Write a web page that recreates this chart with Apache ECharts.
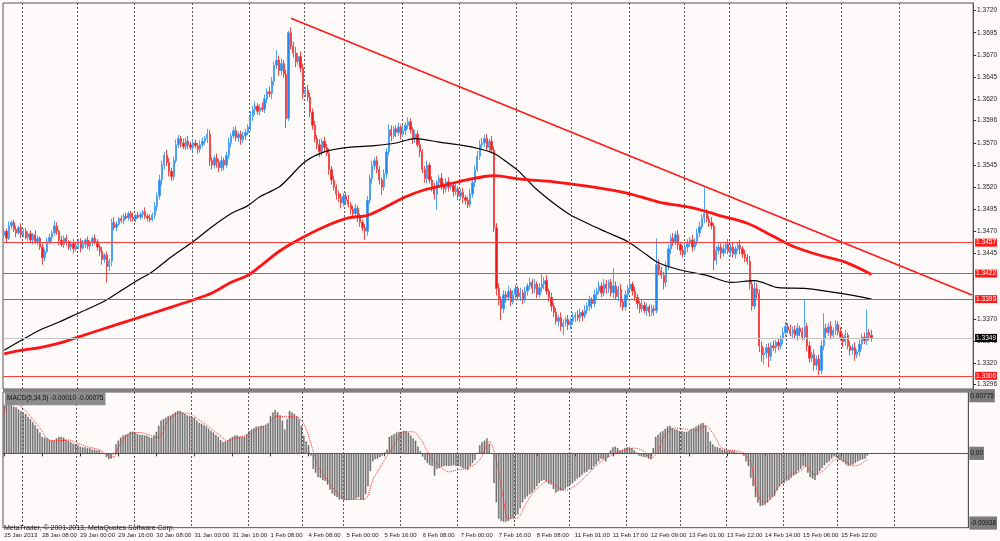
<!doctype html>
<html>
<head>
    <title>EURUSD H1</title>
    <script src="https://cdn.jsdelivr.net/npm/echarts@6.0.0/dist/echarts.min.js"></script>
</head>
<style>
    html, body { margin: 0; padding: 0; background: #fffafa; }
    #chart { width: 1000px; height: 541px; }
</style>
<body>
<div id="chart"></div>
<script>
  // hourly closes in pips (3470 = 1.3470)
  var closes = [
    3470,3462,3476,3480,3472,3468,3474,3466,3470,3463,
    3467,3460,3466,3458,3462,3452,3440,3447,3458,3463,
    3468,3476,3470,3460,3455,3462,3458,3452,3456,3450,
    3454,3459,3451,3455,3460,3453,3457,3462,3458,3452,
    3447,3438,3443,3430,3436,3480,3474,3478,3484,3482,
    3487,3485,3490,3486,3484,3488,3486,3489,3492,3487,
    3485,3483,3488,3498,3510,3528,3545,3556,3548,3538,
    3532,3550,3568,3575,3570,3566,3572,3568,3565,3570,
    3567,3563,3568,3572,3575,3580,3550,3545,3553,3548,
    3542,3550,3545,3556,3570,3578,3584,3576,3580,3574,
    3578,3582,3588,3600,3608,3612,3606,3610,3608,3620,
    3628,3626,3640,3658,3664,3652,3660,3648,3598,3695,
    3680,3672,3662,3668,3655,3626,3630,3622,3605,3590,
    3575,3568,3560,3572,3565,3558,3540,3528,3520,3512,
    3508,3502,3510,3505,3500,3495,3490,3496,3486,3480,
    3474,3470,3505,3530,3544,3550,3540,3528,3520,3535,
    3560,3585,3578,3586,3582,3588,3580,3584,3590,3594,
    3585,3575,3580,3568,3560,3540,3530,3545,3528,3520,
    3512,3525,3530,3522,3518,3526,3520,3522,3515,3518,
    3510,3514,3508,3505,3500,3512,3525,3540,3555,3568,
    3570,3575,3565,3572,3562,3474,3405,3392,3382,3398,
    3395,3402,3390,3398,3405,3396,3400,3393,3402,3408,
    3412,3405,3410,3398,3406,3410,3414,3402,3395,3385,
    3378,3368,3372,3362,3366,3370,3364,3368,3372,3375,
    3372,3378,3374,3380,3385,3392,3388,3398,3402,3408,
    3400,3410,3405,3412,3400,3408,3396,3404,3390,3384,
    3398,3405,3410,3402,3395,3388,3382,3386,3380,3384,
    3378,3382,3380,3432,3425,3420,3412,3430,3450,3462,
    3458,3466,3455,3448,3444,3452,3456,3460,3452,3458,
    3468,3475,3485,3490,3484,3480,3476,3437,3448,3452,
    3445,3450,3455,3447,3452,3444,3450,3454,3450,3444,
    3440,3436,3410,3385,3405,3400,3340,3330,3332,3338,
    3328,3340,3338,3344,3340,3348,3355,3362,3358,3354,
    3358,3352,3360,3356,3350,3362,3340,3326,3330,3318,
    3325,3312,3340,3360,3355,3362,3352,3358,3364,3356,
    3350,3345,3352,3340,3335,3338,3330,3333,3342,3350,
    3346,3355,3352,3349
  ];
  var firstOpen = 3465;

  // wick length above the body / below the body, pips
  var wickUp = [
    4,3,5,2,3,4,2,5,3,4, 3,4,2,5,3,2,4,3,5,4, 3,6,4,2,5,3,4,2,3,5, 4,2,3,5,2,4,3,2,4,3,
    3,5,2,4,3,4,6,3,2,4, 3,4,2,3,5,2,4,3,2,5, 3,4,3,5,4,6,5,4,6,5, 4,5,6,4,3,5,4,6,3,5,
    4,3,5,4,3,6,5,4,3,5, 4,5,3,4,6,3,4,5,3,4, 5,4,3,6,4,5,3,4,6,5, 4,6,5,4,11,5,6,4,5,2,
    6,5,7,4,6,5,4,6,5,4, 5,4,6,3,5,4,6,4,5,3, 4,5,3,4,6,3,4,5,3,4, 3,4,5,4,6,3,5,4,3,5,
    4,6,5,3,4,5,3,6,4,5, 4,3,5,4,6,3,4,5,3,4, 5,3,4,6,3,4,5,3,4,6, 3,4,5,3,4,6,5,4,6,5,
    6,4,5,3,6,4,5,6,4,5, 4,6,3,5,4,3,6,4,5,3, 5,4,6,3,5,12,4,6,3,5, 4,5,3,6,4,3,5,4,6,3,
    5,4,3,6,4,5,3,6,4,5, 4,6,5,3,4,20,5,4,6,3, 5,4,6,3,5,4,3,6,4,5, 3,5,4,30,6,5,4,6,5,4,
    6,4,5,3,6,4,5,3,6,4, 5,6,4,30,5,4,6,3,5,4, 4,5,3,6,4,5,3,4,6,3, 5,4,6,5,8,6,4,5,6,4,
    5,4,6,3,5,4,6,5,4,6, 4,5,6,3,5,30,4,5,3,6, 4,5,6,17,5,4,6,3,5,4, 5,4,6,3,5,4,6,3,5,4,
    5,26,4,6
  ];
  var wickDn = [
    3,5,2,4,3,5,2,4,3,2, 4,3,5,2,4,3,8,4,2,3, 5,3,4,6,3,4,5,3,4,5, 3,4,5,2,4,3,5,4,3,4,
    5,6,4,18,5,6,3,4,2,3, 4,2,3,5,3,4,2,3,4,3, 4,3,2,4,5,4,6,5,4,6, 5,4,3,4,5,3,4,5,3,4,
    3,5,4,3,4,5,6,5,4,6, 5,4,6,3,4,5,3,4,5,6, 4,5,3,4,5,6,4,5,3,4, 5,4,6,5,4,6,5,4,11,3,
    4,5,6,4,5,6,4,5,6,5, 4,5,6,4,5,3,6,5,4,6, 5,6,4,5,3,6,5,4,6,5, 4,10,5,4,6,5,4,5,9,4,
    5,4,6,3,5,4,6,3,5,4, 4,6,5,3,6,4,5,6,4,5, 6,18,4,5,6,4,5,3,6,4, 5,4,6,5,4,3,4,5,3,4,
    4,5,3,6,4,5,8,6,13,5, 6,4,5,3,6,4,5,6,4,5, 4,6,5,4,3,5,6,4,5,6, 5,4,6,5,10,4,6,5,4,5,
    4,5,6,3,4,5,6,4,5,3, 5,4,6,5,4,6,3,5,6,4, 4,6,3,5,4,6,5,4,3,6, 5,4,6,3,5,4,8,5,4,6,
    5,4,6,5,4,3,6,4,5,3, 4,5,3,6,4,5,4,11,5,4, 6,4,5,3,6,4,5,3,6,4, 5,4,6,5,4,6,7,8,11,6,
    12,5,4,6,5,4,6,5,4,3, 5,4,6,5,4,3,6,5,4,6, 5,5,4,5,6,4,5,3,6,4, 4,6,5,4,6,5,7,4,5,6,
    4,5,6,4
  ];

  // moving averages, sampled [bar, pips]
  var maFast = [[0,3335],[7,3346],[15,3358],[23,3367],[31,3377],[40,3388],[44,3394],[55,3413],[62,3424],[70,3441],
    [79,3458],[87,3475],[95,3490],[102,3499],[107,3509],[115,3520],[119,3530],[126,3549],[134,3560],[144,3565],
    [155,3567],[164,3570],[172,3575],[182,3571],[190,3568],[198,3564],[205,3558],[211,3547],[215,3539],[223,3517],
    [236,3490],[244,3479],[252,3469],[261,3458],[269,3443],[274,3434],[283,3426],[294,3420],[304,3412],[314,3414],
    [324,3406],[336,3405],[349,3400],[363,3393]];
  var maSlow = [[0,3331],[7,3335],[15,3338],[23,3343],[31,3350],[40,3358],[47,3364],[55,3371],[62,3377],[70,3384],
    [79,3392],[87,3400],[95,3412],[102,3420],[107,3430],[115,3447],[123,3460],[134,3475],[144,3485],[152,3488],
    [160,3498],[168,3509],[176,3517],[184,3522],[193,3528],[201,3532],[205,3533],[216,3529],[230,3526],[244,3521],
    [261,3513],[274,3503],[289,3496],[299,3488],[311,3479],[322,3464],[330,3453],[341,3443],[352,3435],[363,3421]];

  var trendLine = [[120, 1.37114], [405, 1.33977]];
  var levels = [1.3457, 1.3422, 1.3393, 1.3306];
  var bid = 1.3349;

  // MACD histogram, units of 0.0001
  var macdHist = [
    65,71,69,66,63,62,59,57,55,53, 49,46,42,38,33,28,22,21,20,18, 17,17,20,22,22,21,18,17,15,13,
    12,11,9,8,8,7,7,5,5,4, 4,1,-1,-5,-8,-7,-1,12,17,21, 24,25,26,29,29,28,26,25,25,24,
    24,22,21,24,29,37,44,46,48,50, 51,53,55,57,57,55,53,51,50,49, 48,44,41,40,38,36,33,30,28,25,
    22,18,15,16,17,20,22,24,24,22, 22,22,26,30,32,34,36,36,37,37, 38,40,50,55,58,55,51,44,32,46,
    57,55,53,50,46,37,24,16,11,-3, -21,-26,-32,-33,-36,-37,-42,-49,-54,-57, -59,-62,-62,-63,-63,-63,-62,-62,-61,-59,
    -62,-63,-55,-44,-24,-11,-8,-7,-5,-3, 1,5,22,24,26,28,29,29,30,30, 28,24,20,17,9,3,-4,-9,-13,-16,
    -17,-30,-21,-20,-18,-17,-17,-17,-17,-16, -17,-17,-18,-20,-21,-22,-17,-13,-9,0, 11,15,17,20,13,0,-40,-66,-88,-91,
    -92,-92,-91,-88,-87,-84,-82,-74,-66,-61, -58,-55,-53,-49,-44,-40,-37,-36,-38,-41, -42,-48,-53,-51,-50,-50,-48,-45,-42,-40,
    -37,-34,-32,-29,-26,-25,-22,-22,-18,-15, -11,-7,-8,-11,-5,4,8,9,7,4, 5,7,8,8,7,4,1,-3,-4,-5,
    -5,-7,-8,7,22,25,28,30,33,36, 37,34,32,32,30,30,29,29,30,33, 34,36,38,40,41,37,29,16,12,9,
    8,7,5,5,4,4,3,3,1,0, -1,-3,-11,-17,-33,-44,-59,-66,-71,-70, -69,-66,-62,-59,-57,-50,-44,-41,-40,-37,
    -36,-33,-30,-28,-24,-21,-17,-18,-26,-32, -34,-36,-29,-24,-20,-16,-13,-11,-7,-4, -5,-8,-9,-12,-15,-17,-16,-15,-13,-11,
    -9,-8,-7,-3
  ];
  // signal line, sampled [bar, units of 0.0001]
  var macdSignal = [[0,54],[2,71],[7,63],[11,50],[15,34],[19,18],[23,17],[27,18],[32,12],[36,8],[40,5],[44,-3],[46,-5],
    [48,8],[52,25],[57,28],[61,25],[65,21],[69,44],[73,54],[77,54],[82,45],[90,26],[94,17],[98,21],[102,24],[107,33],
    [111,40],[115,50],[119,49],[123,49],[126,40],[129,13],[132,-17],[136,-36],[140,-53],[144,-62],[148,-62],[152,-61],
    [155,-36],[160,-9],[164,11],[168,29],[172,29],[175,20],[179,-3],[183,-17],[187,-25],[191,-22],[195,-20],[200,-9],
    [204,16],[207,-9],[210,-62],[212,-88],[216,-87],[219,-70],[223,-51],[229,-37],[233,-46],[236,-50],[240,-44],
    [244,-33],[248,-20],[252,-9],[257,0],[261,4],[265,7],[269,3],[272,-7],[275,3],[277,20],[282,34],[286,33],[290,30],
    [294,36],[295,37],[299,22],[302,7],[308,3],[311,0],[314,-13],[316,-44],[319,-66],[322,-63],[326,-44],[330,-30],
    [335,-24],[337,-17],[341,-29],[345,-22],[350,-8],[354,-11],[357,-17],[360,-15],[363,-8]];

  var timeLabels = ['25 Jan 2013','28 Jan 08:00','29 Jan 00:00','29 Jan 16:00','30 Jan 08:00','31 Jan 00:00',
    '31 Jan 16:00','1 Feb 08:00','4 Feb 08:00','5 Feb 00:00','5 Feb 16:00','6 Feb 08:00','7 Feb 00:00',
    '7 Feb 16:00','8 Feb 08:00','11 Feb 01:00','11 Feb 17:00','12 Feb 09:00','13 Feb 01:00','13 Feb 22:00',
    '14 Feb 14:00','15 Feb 06:00','15 Feb 22:00'];
  var dayLines = [8,31,55,79,103,126,143,167,191,215,238,262,285,304,328,351,375];
  var priceTicks = [1.3720,1.3695,1.3670,1.3645,1.3620,1.3596,1.3570,1.3545,1.3520,1.3495,1.3470,1.3445,
    1.3370,1.3345,1.3320,1.3296];
  var macdTicks = [0.00775, 0, -0.00938];

  var slots = 406;
  var font = 'Liberation Sans';

  var cats = [];
  for (var k = 0; k < slots; k++) cats.push(String(k));

  function px(p) { return 1 + p / 1e4; }
  var candles = closes.map(function (c, i) {
    var o = i ? closes[i - 1] : firstOpen;
    var hi = Math.max(o, c) + wickUp[i];
    var lo = Math.min(o, c) - wickDn[i];
    return [px(o), px(c), px(lo), px(hi)];
  });
  function pairs(arr) {
    return arr.map(function (p) { return [p[0], px(p[1])]; });
  }
  function isDay(idx) { return dayLines.indexOf(idx) >= 0; }
  function isLabel(idx) { return idx % 16 === 0 && idx / 16 < timeLabels.length; }

  var tagLines = levels.map(function (v) {
    return {
      yAxis: v,
      lineStyle: { color: '#ff3b3b', width: 1, type: 'solid' },
      label: { backgroundColor: '#ff1a1a', color: '#fff' }
    };
  });
  tagLines.push({
    yAxis: bid,
    lineStyle: { color: '#c4c4c4', width: 1, type: 'solid' },
    label: { backgroundColor: '#000', color: '#fff' }
  });

  var myChart = echarts.init(document.getElementById('chart'));
  var option = {
    backgroundColor: '#fffafa',
    animation: false,
    textStyle: { fontFamily: font },
    grid: [
      { left: 3, right: 23, top: 3, height: 386, show: true, borderColor: '#555', borderWidth: 1, backgroundColor: 'transparent' },
      { left: 3, right: 23, top: 392, height: 138, show: true, borderColor: '#555', borderWidth: 1, backgroundColor: 'transparent' }
    ],
    xAxis: [
      {
        type: 'category', gridIndex: 0, data: cats, boundaryGap: true,
        axisLine: { show: false }, axisTick: { show: false }, axisLabel: { show: false },
        splitLine: { show: true, interval: function (idx) { return isDay(idx); },
          lineStyle: { color: '#555', type: [2, 2], width: 1 } }
      },
      {
        type: 'category', gridIndex: 1, data: cats, boundaryGap: true,
        axisLine: { show: true, lineStyle: { color: '#555' } },
        axisTick: { show: true, alignWithLabel: true, length: 3, interval: function (idx) { return isLabel(idx); },
          lineStyle: { color: '#333' } },
        axisLabel: {
          show: true, interval: function (idx) { return isLabel(idx); },
          formatter: function (v, idx) { return timeLabels[idx / 16] || ''; },
          align: 'left', margin: 3, fontSize: 6, color: '#222', fontFamily: font
        },
        splitLine: { show: true, interval: function (idx) { return isDay(idx); },
          lineStyle: { color: '#555', type: [2, 2], width: 1 } }
      }
    ],
    yAxis: [
      {
        type: 'value', gridIndex: 0, position: 'right', min: 1.32911, max: 1.37287,
        axisLine: { show: true, lineStyle: { color: '#555' } },
        axisTick: { show: true, length: 3, customValues: priceTicks, lineStyle: { color: '#333' } },
        axisLabel: { show: true, customValues: priceTicks, margin: 4, fontSize: 6.5, color: '#222', fontFamily: font,
          formatter: function (v) { return v.toFixed(4); } },
        splitLine: { show: false }
      },
      {
        type: 'value', gridIndex: 1, position: 'right', min: -0.0100, max: 0.00825,
        axisLine: { show: true, lineStyle: { color: '#555' } },
        axisTick: { show: false },
        axisLabel: { show: true, customValues: macdTicks, margin: 1, fontSize: 6.5, color: '#111', fontFamily: font,
          backgroundColor: '#7c7c7c', padding: [1, 1],
          formatter: function (v) { return v === 0 ? '0.00' : v.toFixed(5); } },
        splitLine: { show: false }
      }
    ],
    series: [
      {
        name: 'EURUSD', type: 'candlestick', xAxisIndex: 0, yAxisIndex: 0, data: candles,
        barWidth: 1.8,
        itemStyle: { color: '#1e88f0', color0: '#f01414', borderColor: '#4da2f6', borderColor0: '#f24848', borderWidth: 1 }
      },
      {
        name: 'MA fast', type: 'line', xAxisIndex: 0, yAxisIndex: 0, data: pairs(maFast),
        showSymbol: false, smooth: 0.3, lineStyle: { color: '#000', width: 1.2 }, z: 3
      },
      {
        name: 'MA slow', type: 'line', xAxisIndex: 0, yAxisIndex: 0, data: pairs(maSlow),
        showSymbol: false, smooth: 0.3, lineStyle: { color: '#ff1414', width: 2.8 }, z: 3
      },
      {
        name: 'trend', type: 'line', xAxisIndex: 0, yAxisIndex: 0, data: trendLine,
        showSymbol: false, lineStyle: { color: '#ff1a1a', width: 1.6 }, z: 4,
        markLine: {
          silent: true, symbol: 'none', animation: false, precision: 4,
          label: { show: true, position: 'end', distance: 2, fontSize: 6.5, fontFamily: font, padding: [0, 1],
            lineHeight: 8, formatter: function (p) { return Number(p.value).toFixed(4); } },
          data: tagLines
        }
      },
      {
        name: 'MACD', type: 'bar', xAxisIndex: 1, yAxisIndex: 1,
        data: macdHist.map(function (v) { return v / 1e4; }),
        barWidth: 1.5, itemStyle: { color: '#777', borderColor: '#555', borderWidth: 0.3 }
      },
      {
        name: 'Signal', type: 'line', xAxisIndex: 1, yAxisIndex: 1,
        data: macdSignal.map(function (p) { return [p[0], p[1] / 1e4]; }),
        showSymbol: false, smooth: 0.3, lineStyle: { color: '#ff2a2a', width: 1, type: 'dotted' }, z: 4
      }
    ],
    graphic: [
      { type: 'rect', shape: { x: 3, y: 389, width: 974, height: 3 }, style: { fill: '#808080' }, z: 10 },
      { type: 'text', x: 5, y: 392, z: 10,
        style: { text: 'MACD(5,34,5) -0.00010 -0.00075', font: '6.5px Liberation Sans', fill: '#111',
          backgroundColor: '#8c8c8c', padding: [1, 2] } },
      { type: 'text', x: 4, y: 522, z: 10,
        style: { text: 'MetaTrader, \u00a9 2001-2013, MetaQuotes Software Corp.', font: '7px Liberation Sans', fill: '#222' } }
    ]
  };
  myChart.setOption(option);
</script>
</body>
</html>
